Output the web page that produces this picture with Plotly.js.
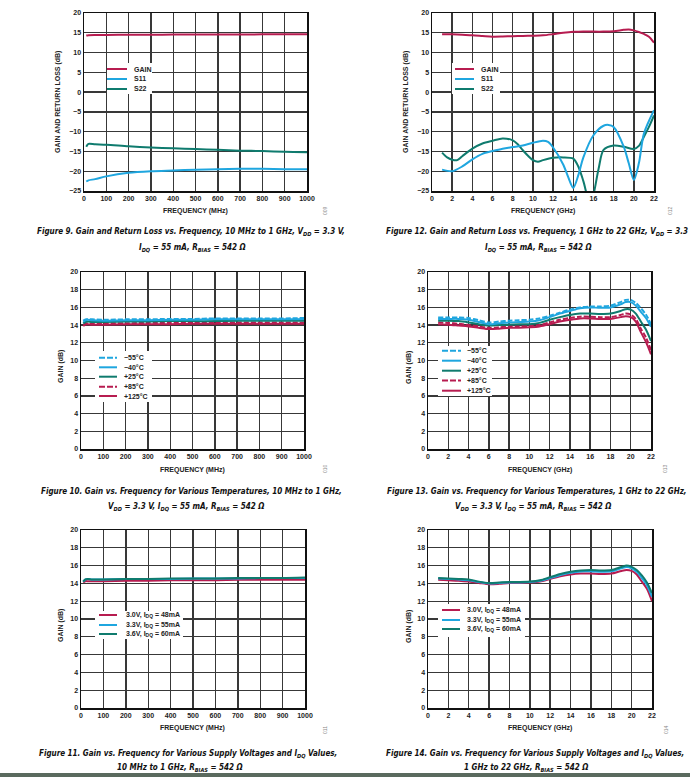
<!DOCTYPE html>
<html><head><meta charset="utf-8">
<script src="https://cdn.plot.ly/plotly-3.0.1.min.js"></script>
<style>html,body{margin:0;padding:0;background:#fff;}#chart{width:690px;height:777px;}</style>
</head><body><div id="chart"></div>
<script>
// ---------- DATA ----------
// Figure 9: 10 MHz to 1 GHz
const f9Freq = [10, 20, 50, 100, 200, 300, 400, 500, 600, 700, 800, 900, 1000];
const f9Gain = [14.3, 14.4, 14.45, 14.45, 14.5, 14.5, 14.55, 14.55, 14.55, 14.55, 14.6, 14.6, 14.6];
const f9S11  = [-22.6, -22.3, -22.0, -21.3, -20.4, -20.0, -19.8, -19.6, -19.5, -19.4, -19.4, -19.5, -19.5];
const f9S22  = [-13.8, -13.1, -13.2, -13.3, -13.7, -14.0, -14.2, -14.4, -14.6, -14.8, -14.9, -15.1, -15.2];

// Figure 12: 1 GHz to 22 GHz
const f12GainFreq = [1,2,3,4,5,6,7,8,9,10,11,12,13,14,15,16,17,18,19,19.5,20,20.5,21,21.5,22];
const f12Gain = [14.65,14.6,14.5,14.4,14.2,14.0,14.05,14.15,14.2,14.25,14.35,14.65,15.0,15.25,15.35,15.3,15.3,15.4,15.75,15.85,15.6,15.2,14.7,14.0,12.5];
const f12S11Freq = [1,2,3,4,5,6,7,8,9,10,11,11.5,12,13,13.5,14,14.5,15,16,17,17.5,18,19,19.5,20,20.5,21,22];
const f12S11 = [-19.6,-20.0,-18.8,-17.0,-15.6,-14.9,-14.3,-13.9,-13.5,-12.8,-12.3,-12.6,-14.0,-18.3,-21.5,-24.2,-21.0,-16.5,-10.9,-8.5,-8.3,-8.8,-13.8,-18.0,-22.2,-18.0,-10.5,-4.6];
const f12S22Freq = [1,1.5,2,2.5,3,4,5,6,7,8,8.5,9,10,10.5,11,12,13,14,14.5,15,15.7,16.5,17,18,19,20,20.5,21,21.5,22];
const f12S22 = [-15.3,-16.5,-17.1,-17.2,-16.2,-14.3,-13.0,-12.3,-11.7,-12.2,-13.2,-14.7,-17.2,-17.6,-17.2,-16.6,-16.5,-16.8,-18.8,-22.5,-28.5,-19.5,-14.6,-13.5,-13.8,-14.4,-13.6,-11.3,-8.8,-5.9];

// Figure 10: temperatures, 10 MHz to 1 GHz
const f10Freq = [10, 20, 30, 50, 100, 200, 300, 400, 500, 600, 700, 800, 900, 1000];
const f10m55  = [14.5, 14.65, 14.7, 14.65, 14.6, 14.65, 14.65, 14.7, 14.7, 14.75, 14.75, 14.75, 14.75, 14.8];
const f10m40  = [14.4, 14.55, 14.6, 14.55, 14.5, 14.55, 14.55, 14.6, 14.6, 14.65, 14.65, 14.65, 14.65, 14.7];
const f10p25  = [14.2, 14.35, 14.4, 14.35, 14.35, 14.4, 14.4, 14.45, 14.45, 14.45, 14.5, 14.5, 14.5, 14.5];
const f10p85  = [14.0, 14.15, 14.2, 14.2, 14.2, 14.2, 14.25, 14.25, 14.3, 14.3, 14.3, 14.3, 14.3, 14.3];
const f10p125 = [13.9, 14.05, 14.1, 14.05, 14.05, 14.1, 14.1, 14.1, 14.15, 14.15, 14.15, 14.15, 14.15, 14.15];

// Figure 13: temperatures, 1 GHz to 22 GHz
const f13Freq = [1,2,3,4,5,6,7,8,9,10,11,12,13,14,15,16,17,18,19,19.5,20,20.5,21,21.5,22];
const f13m55  = [14.85,14.85,14.85,14.8,14.55,14.3,14.4,14.5,14.55,14.6,14.75,15.05,15.4,15.75,16.0,16.1,16.1,16.2,16.6,16.85,16.85,16.5,15.9,15.2,14.1];
const f13m40  = [14.7,14.7,14.7,14.6,14.35,14.1,14.2,14.3,14.35,14.4,14.55,14.9,15.3,15.6,15.9,16.0,15.95,16.0,16.35,16.6,16.6,16.2,15.5,14.8,13.8];
const f13p25  = [14.5,14.5,14.45,14.3,14.1,13.95,14.0,14.05,14.1,14.1,14.25,14.6,14.9,15.15,15.3,15.3,15.25,15.3,15.6,15.8,15.75,15.3,14.4,13.5,12.2];
const f13p85  = [14.3,14.25,14.15,14.0,13.85,13.7,13.75,13.85,13.85,13.9,14.0,14.3,14.6,14.8,14.95,14.95,14.9,14.9,15.15,15.3,15.2,14.7,13.6,12.6,11.2];
const f13p125 = [14.1,14.05,13.95,13.85,13.7,13.55,13.6,13.7,13.7,13.75,13.85,14.1,14.4,14.6,14.75,14.75,14.7,14.7,14.9,15.0,14.9,14.4,13.2,12.1,10.7];

// Figure 11: supply voltages, 10 MHz to 1 GHz
const f11Freq = [10, 20, 30, 50, 100, 200, 300, 400, 500, 600, 700, 800, 900, 1000];
const f11v30  = [14.1, 14.25, 14.25, 14.25, 14.25, 14.3, 14.3, 14.35, 14.35, 14.35, 14.4, 14.4, 14.4, 14.4];
const f11v33  = [14.2, 14.45, 14.5, 14.45, 14.45, 14.5, 14.5, 14.5, 14.55, 14.55, 14.55, 14.6, 14.6, 14.6];
const f11v36  = [14.2, 14.45, 14.5, 14.45, 14.45, 14.5, 14.5, 14.55, 14.55, 14.55, 14.6, 14.6, 14.6, 14.65];

// Figure 14: supply voltages, 1 GHz to 22 GHz
const f14Freq = [1,2,3,4,5,6,7,8,9,10,11,12,13,14,15,16,17,18,19,19.5,20,20.5,21,21.5,22];
const f14v30  = [14.4,14.35,14.3,14.2,14.05,13.9,13.95,14.05,14.05,14.1,14.2,14.5,14.8,15.0,15.1,15.1,15.05,15.1,15.4,15.5,15.4,15.0,14.2,13.4,12.0];
const f14v33  = [14.55,14.5,14.45,14.35,14.15,14.0,14.05,14.1,14.1,14.15,14.3,14.6,14.95,15.2,15.35,15.35,15.3,15.35,15.7,15.85,15.7,15.3,14.6,13.8,12.5];
const f14v36  = [14.6,14.55,14.5,14.45,14.2,14.05,14.1,14.15,14.15,14.2,14.35,14.7,15.05,15.3,15.45,15.5,15.45,15.5,15.85,16.0,15.85,15.5,14.9,14.1,12.9];

// Labels
const sLabels = ['GAIN', 'S11', 'S22'];
const tLabels = ['\u221255\u00B0C', '\u221240\u00B0C', '+25\u00B0C', '+85\u00B0C', '+125\u00B0C'];
const vLabels = ['3.0V, I<sub>DQ</sub> = 48mA', '3.3V, I<sub>DQ</sub> = 55mA', '3.6V, I<sub>DQ</sub> = 60mA'];
const mhzTicks = [0,100,200,300,400,500,600,700,800,900,1000];
const ghzTicks = [0,2,4,6,8,10,12,14,16,18,20,22];
const rlTicks = [-25,-20,-15,-10,-5,0,5,10,15,20];
const gainTicks = [0,2,4,6,8,10,12,14,16,18,20];

// ---------- STYLE ----------
const RED = '#b71c50', BLUE = '#1fa6df', TEAL = '#0f7b6e';
const W = 690, H = 777;
const fx = p => p / W, fy = p => 1 - p / H;
const FONT = 'Liberation Sans, Arial, sans-serif';
const CAPFONT = 'Liberation Sans Narrow, DejaVu Sans Condensed, Liberation Sans, Arial, sans-serif';

const boxes = [
  {x0:84,  x1:307, y0:13,  y1:191}, // Fig 9
  {x0:432, x1:654, y0:13,  y1:191}, // Fig 12
  {x0:81,  x1:304, y0:272, y1:449}, // Fig 10
  {x0:428, x1:651, y0:272, y1:449}, // Fig 13
  {x0:81,  x1:305, y0:530, y1:708}, // Fig 11
  {x0:428, x1:652, y0:530, y1:708}  // Fig 14
];

const traces = [];
function add(i, x, y, color, dash, shape) {
  const s = i === 0 ? '' : String(i + 1);
  traces.push({type:'scatter', mode:'lines', x:x, y:y, xaxis:'x'+s, yaxis:'y'+s,
    line:{color:color, width:2, dash:dash||'solid', shape:shape||'spline', smoothing:0.8},
    showlegend:false, hoverinfo:'skip'});
}
const D = '5px,2px';
add(0, f9Freq, f9S22, TEAL); add(0, f9Freq, f9S11, BLUE); add(0, f9Freq, f9Gain, RED);
add(1, f12S22Freq, f12S22, TEAL); add(1, f12S11Freq, f12S11, BLUE); add(1, f12GainFreq, f12Gain, RED);
add(2, f10Freq, f10p125, RED); add(2, f10Freq, f10p85, RED, D); add(2, f10Freq, f10p25, TEAL);
add(2, f10Freq, f10m40, BLUE); add(2, f10Freq, f10m55, BLUE, D);
add(3, f13Freq, f13p125, RED); add(3, f13Freq, f13p85, RED, D); add(3, f13Freq, f13p25, TEAL);
add(3, f13Freq, f13m40, BLUE); add(3, f13Freq, f13m55, BLUE, D);
add(4, f11Freq, f11v30, RED); add(4, f11Freq, f11v33, BLUE); add(4, f11Freq, f11v36, TEAL);
add(5, f14Freq, f14v30, RED); add(5, f14Freq, f14v33, BLUE); add(5, f14Freq, f14v36, TEAL);

const layout = {width:W, height:H, margin:{l:0,r:0,t:0,b:0}, paper_bgcolor:'#fff', plot_bgcolor:'#fff',
  showlegend:false, font:{family:FONT, color:'#222'}, annotations:[], shapes:[]};

const tickFont = {family:FONT, size:7, weight:700, color:'#222'};
boxes.forEach((b, i) => {
  const s = i === 0 ? '' : String(i + 1);
  const mhz = (i % 2 === 0);
  const rl = (i < 2);
  layout['xaxis'+s] = {domain:[fx(b.x0), fx(b.x1)], anchor:'y'+s,
    range: mhz ? [0,1000] : [0,22], tickmode:'array', tickvals: mhz ? mhzTicks : ghzTicks,
    showgrid:true, gridcolor:'#383838', gridwidth:1.4, zeroline:false,
    showline:true, mirror:true, linecolor:'#111', linewidth:1.5, ticks:'', ticklen:0,
    tickfont:tickFont, fixedrange:true};
  layout['yaxis'+s] = {domain:[fy(b.y1), fy(b.y0)], anchor:'x'+s,
    range: rl ? [-25,20] : [0,20], tickmode:'array', tickvals: rl ? rlTicks : gainTicks,
    showgrid:true, gridcolor:'#383838', gridwidth:1.4, zeroline:false,
    showline:true, mirror:true, linecolor:'#111', linewidth:1.5, ticks:'', ticklen:0,
    tickfont:tickFont, fixedrange:true};
});

function ann(text, x, y, opts) {
  layout.annotations.push(Object.assign({text:text, x:fx(x), y:fy(y), xref:'paper', yref:'paper',
    showarrow:false, xanchor:'center', yanchor:'middle',
    font:{family:FONT, size:7, weight:700, color:'#222'}}, opts || {}));
}
// axis titles
const xTitles = [[195.5,211,'FREQUENCY (MHz)'],[543,211,'FREQUENCY (GHz)'],[192.5,470,'FREQUENCY (MHz)'],
                 [539.5,470,'FREQUENCY (GHz)'],[193,728,'FREQUENCY (MHz)'],[540,728,'FREQUENCY (GHz)']];
xTitles.forEach(t => ann(t[2], t[0], t[1]));
const yTitles = [[58,102,'GAIN AND RETURN LOSS (dB)'],[406,102,'GAIN AND RETURN LOSS (dB)'],
                 [61,367,'GAIN (dB)'],[409,367,'GAIN (dB)'],[61,626,'GAIN (dB)'],[409,626,'GAIN (dB)']];
yTitles.forEach(t => ann(t[2], t[0], t[1], {textangle:-90}));

// figure codes
[[325,211,'009'],[670,211,'012'],[325,469,'010'],[665,469,'013'],[325,730,'011'],[666,730,'014']]
  .forEach(t => ann(t[2], t[0], t[1], {textangle:-90, font:{family:FONT, size:5, color:'#888'}}));

// captions
const capFont = {family:CAPFONT, size:8, weight:700, style:'italic', color:'#111'};
const caps = [
  [191, 232, 'Figure 9. Gain and Return Loss vs. Frequency, 10 MHz to 1 GHz, V<sub>DD</sub> = 3.3 V,', 'center'],
  [193, 248, 'I<sub>DQ</sub> = 55 mA, R<sub>BIAS</sub> = 542 \u03A9', 'center'],
  [384, 232, 'Figure 12. Gain and Return Loss vs. Frequency, 1 GHz to 22 GHz, V<sub>DD</sub> = 3.3 V,', 'left'],
  [538, 248, 'I<sub>DQ</sub> = 55 mA, R<sub>BIAS</sub> = 542 \u03A9', 'center'],
  [191.5, 492, 'Figure 10. Gain vs. Frequency for Various Temperatures, 10 MHz to 1 GHz,', 'center'],
  [186, 507, 'V<sub>DD</sub> = 3.3 V, I<sub>DQ</sub> = 55 mA, R<sub>BIAS</sub> = 542 \u03A9', 'center'],
  [537, 492, 'Figure 13. Gain vs. Frequency for Various Temperatures, 1 GHz to 22 GHz,', 'center'],
  [533, 507, 'V<sub>DD</sub> = 3.3 V, I<sub>DQ</sub> = 55 mA, R<sub>BIAS</sub> = 542 \u03A9', 'center'],
  [188, 754, 'Figure 11. Gain vs. Frequency for Various Supply Voltages and I<sub>DQ</sub> Values,', 'center'],
  [180, 768, '10 MHz to 1 GHz, R<sub>BIAS</sub> = 542 \u03A9', 'center'],
  [535, 754, 'Figure 14. Gain vs. Frequency for Various Supply Voltages and I<sub>DQ</sub> Values,', 'center'],
  [526, 768, '1 GHz to 22 GHz, R<sub>BIAS</sub> = 542 \u03A9', 'center']
];
caps.forEach(c => ann(c[2], c[0], c[1], {xanchor:c[3], font:capFont}));

// legends (white box, sample lines, labels)
const legends = [
  {box:[107,63,152,94], lx:[107,127], tx:132, rows:[69,79,89], labels:sLabels,
   styles:[[RED,'solid'],[BLUE,'solid'],[TEAL,'solid']]},
  {box:[452,63,500,94], lx:[455,474], tx:479, rows:[69,79,89], labels:sLabels,
   styles:[[RED,'solid'],[BLUE,'solid'],[TEAL,'solid']]},
  {box:[95,351,152,402], lx:[99,117], tx:122, rows:[357.7,367.3,376.7,386.7,396], labels:tLabels,
   styles:[[BLUE,'dash'],[BLUE,'solid'],[TEAL,'solid'],[RED,'dash'],[RED,'solid']]},
  {box:[438,346,492,396], lx:[442,461], tx:465, rows:[350.7,360.7,370.7,380.5,390.7], labels:tLabels,
   styles:[[BLUE,'dash'],[BLUE,'solid'],[TEAL,'solid'],[RED,'dash'],[RED,'solid']]},
  {box:[95,611,183,639], lx:[99,117], tx:124, rows:[615,625,634], labels:vLabels,
   styles:[[RED,'solid'],[BLUE,'solid'],[TEAL,'solid']]},
  {box:[438,604,525,637], lx:[442,460], tx:465, rows:[610,620,629], labels:vLabels,
   styles:[[RED,'solid'],[BLUE,'solid'],[TEAL,'solid']]}
];
legends.forEach(L => {
  layout.shapes.push({type:'rect', xref:'paper', yref:'paper', x0:fx(L.box[0]), x1:fx(L.box[2]),
    y0:fy(L.box[3]), y1:fy(L.box[1]), fillcolor:'#fff', line:{width:0}, layer:'above'});
  L.rows.forEach((r, k) => {
    layout.shapes.push({type:'line', xref:'paper', yref:'paper', x0:fx(L.lx[0]), x1:fx(L.lx[1]),
      y0:fy(r), y1:fy(r), line:{color:L.styles[k][0], width:2, dash:L.styles[k][1]==='dash' ? '6px,2px' : 'solid'}, layer:'above'});
    ann(L.labels[k], L.tx, r, {xanchor:'left'});
  });
});

// bottom page rule
layout.shapes.push({type:'rect', xref:'paper', yref:'paper', x0:0, x1:1, y0:0, y1:fy(773),
  fillcolor:'#5a6a5e', line:{width:0}, layer:'above'});

Plotly.newPlot('chart', traces, layout, {displayModeBar:false, staticPlot:true});
</script>
</body></html>
